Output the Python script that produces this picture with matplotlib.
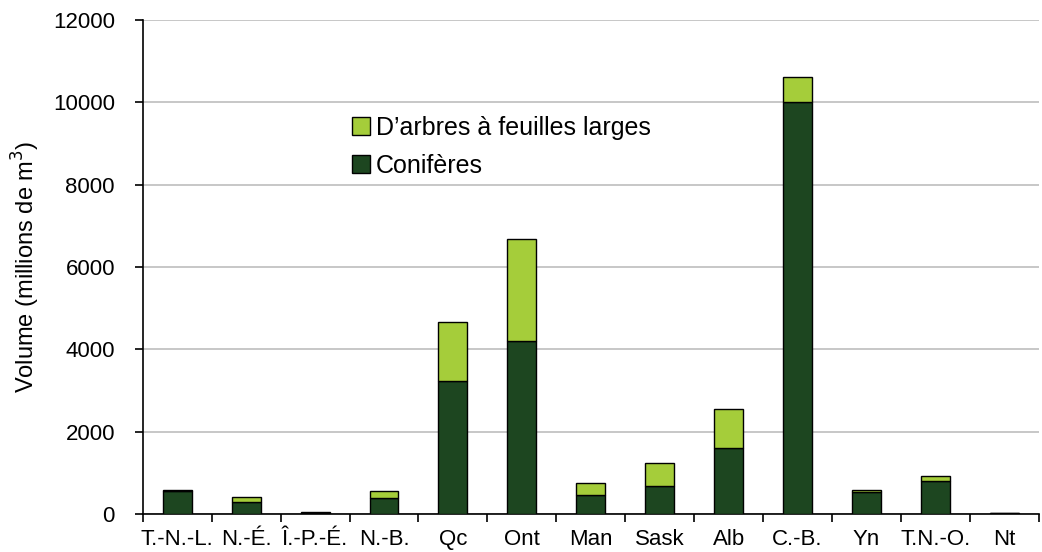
import numpy as np
import matplotlib.pyplot as plt
from matplotlib.ticker import FixedLocator

plt.rcParams['font.family'] = ['Liberation Sans', 'DejaVu Sans']

# Données (millions de m3)
provinces = ["T.-N.-L.", "N.-É.", "Î.-P.-É.", "N.-B.", "Qc", "Ont", "Man",
             "Sask", "Alb", "C.-B.", "Yn", "T.N.-O.", "Nt"]
coniferes = [560, 290, 25, 380, 3220, 4200, 470, 680, 1600, 10000, 530, 790, 30]
feuillus = [20, 120, 15, 180, 1430, 2480, 270, 550, 950, 620, 50, 120, 3]

DARK = "#1d4620"
LIGHT = "#a5cd3a"

fig = plt.figure(figsize=(10.42, 5.52), dpi=100)
ax = fig.add_axes([0.137, 0.069, 0.860, 0.895])

x = np.arange(len(provinces))
ax.bar(x, coniferes, width=0.42, color=DARK, edgecolor="black", linewidth=1.0,
       label="Conifères", zorder=3)
ax.bar(x, feuillus, width=0.42, bottom=coniferes, color=LIGHT, edgecolor="black",
       linewidth=1.0, label="D\u2019arbres à feuilles larges", zorder=3)

ax.set_xlim(-0.5, len(provinces) - 0.5)
ax.set_ylim(0, 12000)
ax.set_yticks(np.arange(0, 12001, 2000))
ax.set_xticks(x)
ax.set_xticklabels(provinces)
ax.xaxis.set_minor_locator(FixedLocator(np.arange(-0.5, len(provinces), 1.0)))
ax.tick_params(axis="x", which="major", length=0, labelsize=16, pad=11)
ax.tick_params(axis="x", which="minor", length=6, width=1.2, direction="out")
ax.tick_params(axis="y", length=6, width=1.2, labelsize=16, pad=14)

ax.grid(axis="y", color="#bdbdbd", linewidth=1.2, zorder=0)
for s in ["top", "right"]:
    ax.spines[s].set_visible(False)
ax.spines["left"].set_linewidth(1.2)
ax.spines["bottom"].set_linewidth(1.2)

ax.set_ylabel("Volume (millions de m$^3$)", fontsize=17)
ax.yaxis.set_label_coords(-0.112, 0.5)

handles, labels = ax.get_legend_handles_labels()
ax.legend(handles[::-1], labels[::-1], loc="upper left",
          bbox_to_anchor=(0.222, 0.826), frameon=False, fontsize=18,
          handlelength=0.72, handleheight=0.72, handletextpad=0.25,
          labelspacing=0.55, borderaxespad=0)

fig.savefig("out.png", dpi=100)
